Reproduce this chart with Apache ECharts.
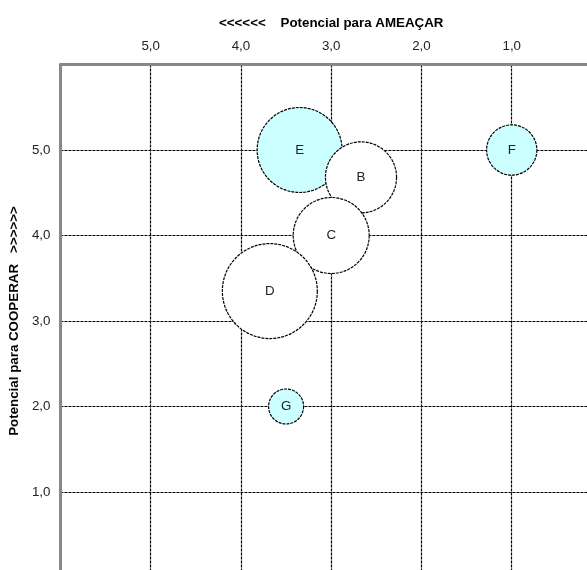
<!DOCTYPE html>
<html><head><meta charset="utf-8">
<script src="https://cdn.jsdelivr.net/npm/echarts@6/dist/echarts.min.js"></script>
<style>html,body{margin:0;padding:0;background:#fff;overflow:hidden;width:587px;height:570px;}#c{width:640px;height:620px;}</style>
</head><body><div id="c"></div>
<script>
// Data
const names = ['E', 'B', 'C', 'D', 'F', 'G'];
const threat = [3.35, 2.67, 3.0, 3.68, 1.0, 3.5];      // Potencial para AMEAÇAR
const coop   = [5.0, 4.68, 4.0, 3.35, 5.0, 2.0];       // Potencial para COOPERAR
const sizes  = [8.0, 5.6, 6.4, 10.0, 2.8, 1.36];       // bubble size (area)
const highlighted = ['E', 'F', 'G'];
const xTitle = '<<<<<<    Potencial para AMEAÇAR';
const yTitle = 'Potencial para COOPERAR   >>>>>>';

const FONT = '"Liberation Sans", Arial, sans-serif';
const FS = 13.33;
const maxSize = Math.max(...sizes);
const fmt = v => v.toFixed(1).replace('.', ',');

const data = names.map((n, i) => ({
  name: n,
  value: [threat[i], coop[i], sizes[i]],
  itemStyle: { color: highlighted.includes(n) ? '#ccffff' : '#ffffff' }
}));

const chart = echarts.init(document.getElementById('c'), null, { renderer: 'canvas' });
chart.setOption({
  animation: false,
  backgroundColor: '#fff',
  grid: { left: 57.5, top: 64.5, width: 544.5, height: 513 },
  xAxis: {
    type: 'value', position: 'top', inverse: true, min: 0, max: 6, interval: 1,
    name: xTitle, nameLocation: 'middle', nameGap: 35,
    nameTextStyle: { fontFamily: FONT, fontSize: FS, fontWeight: 'bold', color: '#000' },
    axisLine: { show: true, onZero: false, lineStyle: { color: '#888', width: 3 } },
    axisTick: { show: false },
    axisLabel: { fontFamily: FONT, fontSize: FS, color: '#222', margin: 12, formatter: fmt, showMaxLabel: false },
    splitLine: { show: true, lineStyle: { color: '#000', width: 1.2, type: [3, 1] } }
  },
  yAxis: {
    type: 'value', min: 0, max: 6, interval: 1,
    name: yTitle, nameLocation: 'middle', nameGap: 32,
    nameTextStyle: { fontFamily: FONT, fontSize: FS, fontWeight: 'bold', color: '#000' },
    axisLine: { show: true, onZero: false, lineStyle: { color: '#888', width: 3 } },
    axisTick: { show: false },
    axisLabel: { fontFamily: FONT, fontSize: FS, color: '#222', margin: 10, formatter: fmt, showMaxLabel: false },
    splitLine: { show: true, lineStyle: { color: '#000', width: 1.2, type: [3, 1] } }
  },
  series: [{
    type: 'scatter',
    data: data,
    symbolSize: v => 95 * Math.sqrt(v[2] / maxSize),
    itemStyle: { borderColor: '#000', borderWidth: 1.2, borderType: [3, 1], opacity: 1 },
    label: { show: true, formatter: p => p.name, fontFamily: FONT, fontSize: FS, color: '#222' },
    emphasis: { disabled: true }
  }]
});
</script></body></html>
